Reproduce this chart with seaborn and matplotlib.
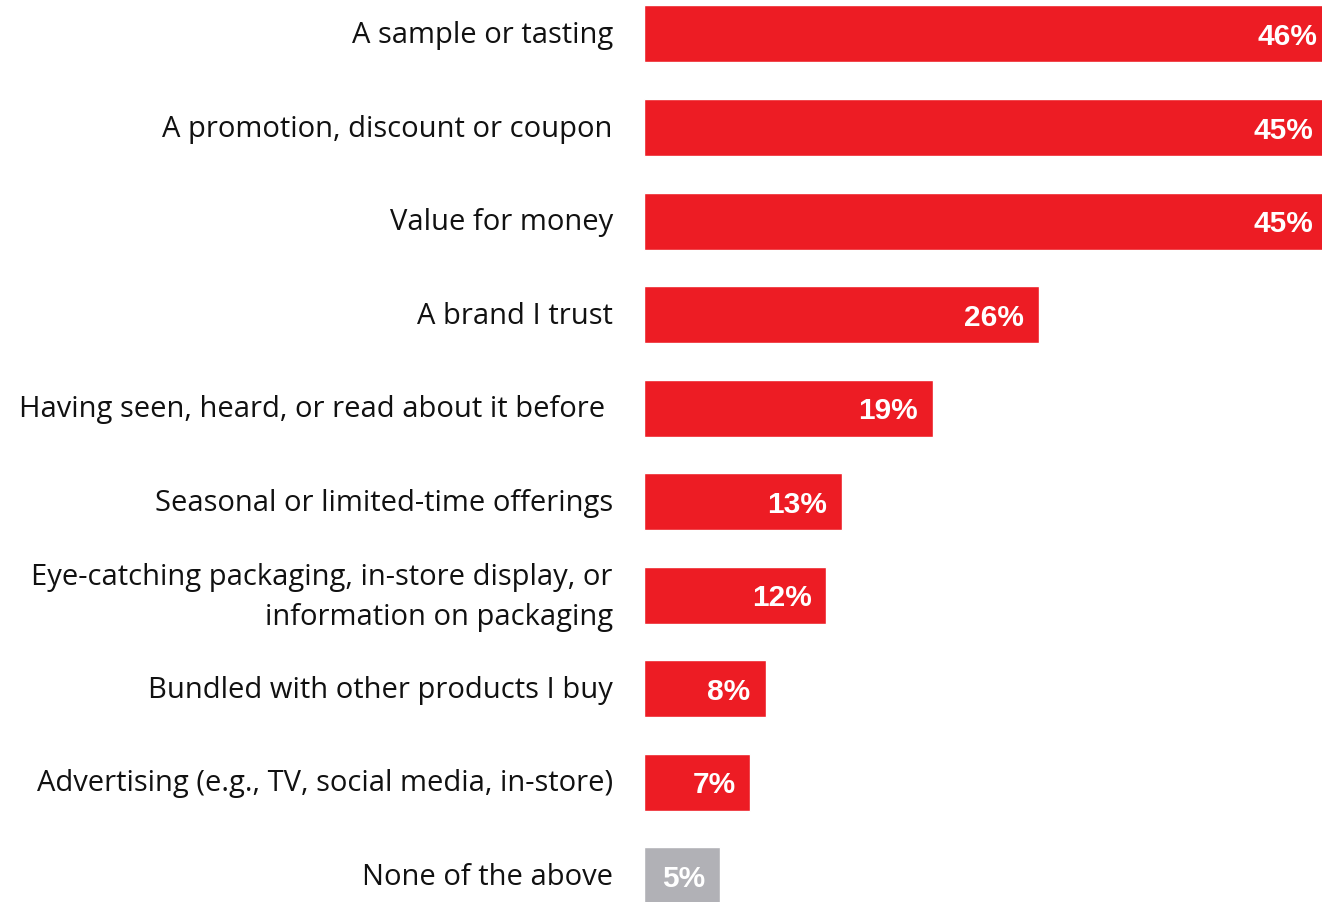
import matplotlib
matplotlib.use("Agg")
import matplotlib.pyplot as plt
import matplotlib.transforms as mtransforms
import seaborn as sns
import pandas as pd

# Survey responses: what prompts trying a new product
categories = [
    "A sample or tasting",
    "A promotion, discount or coupon",
    "Value for money",
    "A brand I trust",
    "Having seen, heard, or read about it before ",
    "Seasonal or limited-time offerings",
    "Eye-catching packaging, in-store display, or\ninformation on packaging",
    "Bundled with other products I buy",
    "Advertising (e.g., TV, social media, in-store)",
    "None of the above",
]
values = [46, 45, 45, 26, 19, 13, 12, 8, 7, 5]
bar_colors = ["#ED1C24"] * 9 + ["#B1B1B6"]

df = pd.DataFrame({"category": categories, "value": values})

sns.set_theme(style="white")
plt.rcParams["font.family"] = ["Open Sans", "DejaVu Sans"]

fig = plt.figure(figsize=(13.22, 9.02), dpi=100)
ax = fig.add_axes([644 / 1322, 0, 678 / 1322, 1])

sns.barplot(
    data=df, x="value", y="category", hue="category",
    palette=bar_colors, legend=False, width=0.61,
    saturation=1, ax=ax, orient="h",
)

# the longest bars run off the right edge of the canvas
xmax = 44.6
label_limit = 45.3
ax.set_xlim(0, xmax)
ax.set_ylim(9.278, -0.363)

for i, v in enumerate(values):
    ax.annotate(
        f"{v}%", xy=(min(v, label_limit), i), xytext=(-15, -3),
        textcoords="offset pixels", ha="right", va="center",
        color="white", fontweight="bold", fontsize=21.5,
        family=["Liberation Sans", "DejaVu Sans"],
        annotation_clip=False,
    )

ax.set_xlabel("")
ax.set_ylabel("")
ax.set_xticks([])
ax.tick_params(axis="y", length=0, pad=22.5, labelsize=21, labelcolor="#111111")
for lbl in ax.get_yticklabels():
    lbl.set_horizontalalignment("right")
    lbl.set_multialignment("right")
    lbl.set_linespacing(1.5)
    shift = 7 if "\n" in lbl.get_text() else 2
    lbl.set_transform(lbl.get_transform() +
                      mtransforms.Affine2D().translate(0, shift))
sns.despine(ax=ax, left=True, bottom=True)

fig.savefig("out.png", dpi=100)
